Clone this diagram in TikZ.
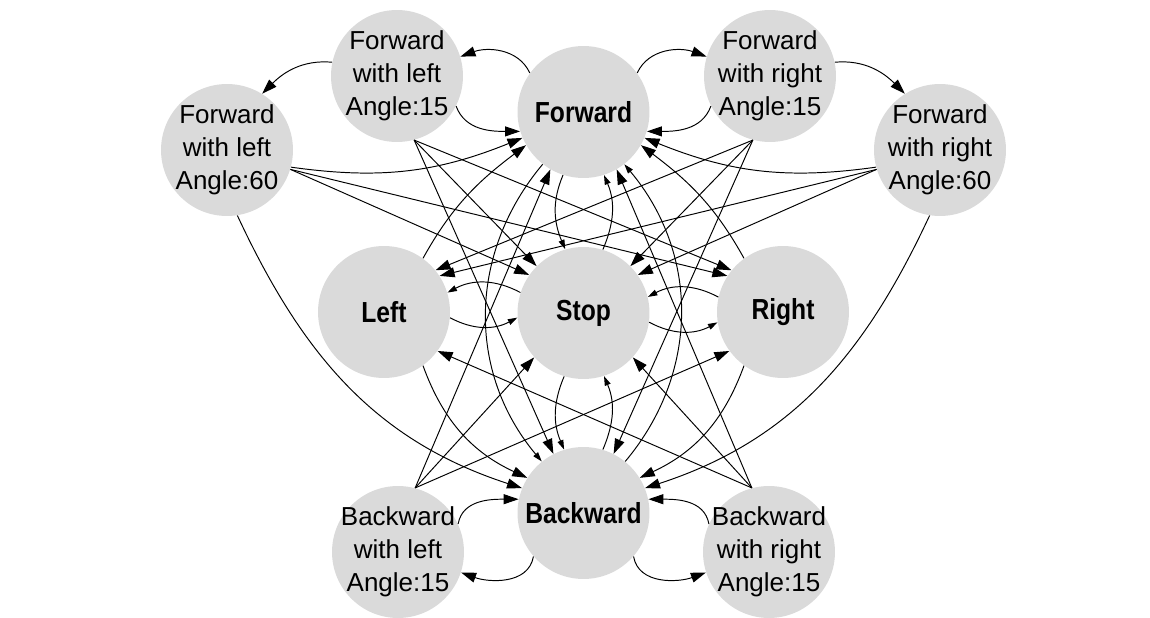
\documentclass[tikz,border=0pt]{standalone}
\usepackage{fontspec}
\usepackage{graphicx}
\setmainfont{Liberation Sans}
\usetikzlibrary{arrows.meta}
\definecolor{nodegray}{RGB}{218,218,218}
\tikzset{
  st/.style={circle, fill=nodegray, draw=none, minimum size=2.64cm, inner sep=0pt},
  lb/.style={align=center, font=\fontsize{14.8}{18.8}\selectfont, inner sep=0pt},
  bl/.style={font=\fontsize{16.5}{18}\selectfont\bfseries, inner sep=0pt},
  e/.style={draw, line width=0.55pt, -{Triangle[length=0.3cm,width=0.2cm]}},
  s/.style={draw, line width=0.55pt, -{Triangle[length=0.19cm,width=0.12cm]}}
}
\begin{document}
\begin{tikzpicture}[x=0.02cm, y=-0.02cm]
\useasboundingbox (0,0) rectangle (1150,618);
% nodes
\node[st, label={[lb]center:{Forward\\with left\\Angle:15}}] (FL15) at (397,76) {};
\node[st, label={[lb]center:{Forward\\with left\\Angle:60}}] (FL60) at (227,150) {};
\node[st, label={[bl]center:{\scalebox{0.85}[1]{Forward}}}] (F) at (583.5,112) {};
\node[st, label={[lb]center:{Forward\\with right\\Angle:15}}] (FR15) at (770,76) {};
\node[st, label={[lb]center:{Forward\\with right\\Angle:60}}] (FR60) at (940,150) {};
\node[st, label={[bl]center:{\scalebox{0.85}[1]{Left}}}] (Left) at (384,312) {};
\node[st, label={[bl]center:{\scalebox{0.85}[1]{Stop}}}] (Stop) at (583.5,313) {};
\node[st, label={[bl]center:{\scalebox{0.85}[1]{Right}}}] (Right) at (783,312) {};
\node[st, label={[bl]center:{\scalebox{0.85}[1]{Backward}}}] (Backward) at (583.5,513) {};
\node[st, label={[lb]center:{Backward\\with left\\Angle:15}}] (BL15) at (398,552) {};
\node[st, label={[lb]center:{Backward\\with right\\Angle:15}}] (BR15) at (769,552) {};
% top loops
\draw[e] (FL15.168) to[out=175,in=45] (FL60.58);
\draw[e] (F.144) to[out=115,in=20] (FL15.17);
\draw[e] (FL15.-27) to[out=-70,in=180] (F.197);
\draw[e] (F.36) to[out=65,in=160] (FR15.163);
\draw[e] (FR15.207) to[out=250,in=0] (F.-17);
\draw[e] (FR15.12) to[out=5,in=135] (FR60.122);
\draw[e] (FL60.-15) to[out=-8,in=202] (F.203);
\draw[e] (FR60.195) to[out=188,in=-22] (F.-23);
% straight lines from the forward-with nodes
\draw[e] (FL15.-75) -- (Stop.135);
\draw[e] (FL15.-75) -- (Right.141);
\draw[e] (FL15.-75) -- (Backward.117);
\draw[e] (FL60.-17) -- (Stop.145);
\draw[e] (FL60.-17) -- (Right.147);
\draw[e] (FL60.-81) to[out=-65,in=162] (Backward.158);
\draw[e] (FR15.-105) -- (Stop.45);
\draw[e] (FR15.-105) -- (Left.39);
\draw[e] (FR15.-105) -- (Backward.63);
\draw[e] (FR60.197) -- (Stop.35);
\draw[e] (FR60.197) -- (Left.33);
\draw[e] (FR60.261) to[out=245,in=18] (Backward.22);
% left / right
\draw[e] (Left.54) to[out=61,in=217] (F.210);
\draw[e] (Right.126) to[out=119,in=-37] (F.-30);
\draw[e] (Left.-54) to[out=-70,in=155] (Backward.148);
\draw[e] (Right.234) to[out=250,in=25] (Backward.32);
% stop
\draw[s] (Stop.162) to[out=152,in=28] (Left.17);
\draw[s] (Left.-5) to[out=-28,in=208] (Stop.184);
\draw[s] (Stop.-8) to[out=-28,in=208] (Right.189);
\draw[s] (Right.167) to[out=152,in=28] (Stop.14);
\draw[s] (F.-108) to[out=-113,in=113] (Stop.106);
\draw[s] (Stop.73) to[out=67,in=-67] (F.-72);
\draw[s] (Stop.-107) to[out=-113,in=113] (Backward.107);
\draw[s] (Backward.73) to[out=67,in=-67] (Stop.-72);
\draw[s] (F.-128) to[out=-130,in=130] (Backward.129);
\draw[s] (Backward.51) to[out=50,in=-50] (F.-52);
% backward-with nodes
\draw[e] (BL15.75) -- (F.240);
\draw[e] (BL15.75) -- (Stop.222);
\draw[e] (BL15.75) -- (Right.216);
\draw[e] (BR15.105) -- (F.-60);
\draw[e] (BR15.105) -- (Stop.-42);
\draw[e] (BR15.105) -- (Left.-36);
\draw[e] (BL15.25) to[out=80,in=180] (Backward.168);
\draw[e] (Backward.221) to[out=-100,in=-20] (BL15.-18);
\draw[e] (BR15.155) to[out=100,in=0] (Backward.12);
\draw[e] (Backward.-41) to[out=-80,in=200] (BR15.198);
\end{tikzpicture}
\end{document}
